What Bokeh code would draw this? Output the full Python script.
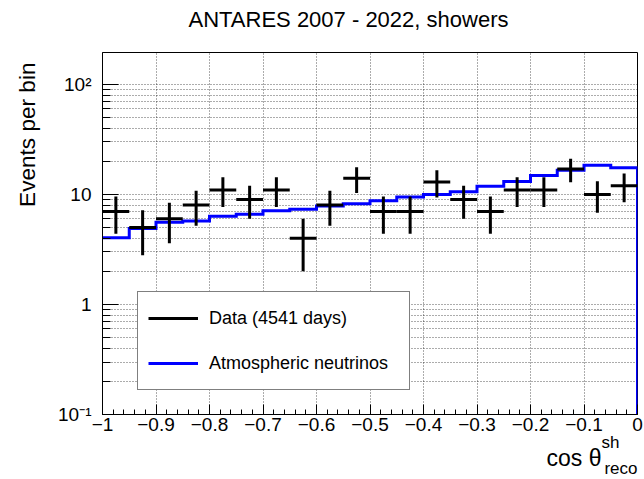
import numpy as np
from bokeh.plotting import figure
from bokeh.models import (Range1d, FixedTicker, Title, Legend, LegendItem, ColumnDataSource)
from bokeh.embed import file_html
from bokeh.resources import INLINE

# ---------------- data ----------------
bin_edges = [-1.0, -0.95, -0.9, -0.85, -0.8, -0.75, -0.7, -0.65, -0.6, -0.55, -0.5,
             -0.45, -0.4, -0.35, -0.3, -0.25, -0.2, -0.15, -0.1, -0.05, 0.0]
data_counts = [7, 5, 6, 8, 11, 9, 11, 4, 8, 14, 7, 7, 13, 9, 7, 11, 11, 17, 10, 12]
data_err = [2.6, 2.2, 2.4, 2.8, 3.3, 3.0, 3.3, 2.0, 2.8, 3.7,
            2.6, 2.6, 3.6, 3.0, 2.6, 3.3, 3.3, 4.1, 3.2, 3.5]
atm_nu = [4.05, 4.9, 5.6, 5.75, 6.35, 6.6, 7.1, 7.35, 7.85, 8.25,
          8.75, 9.5, 10.0, 10.6, 11.9, 13.1, 14.9, 16.6, 18.4, 17.5]

x_tick_values = [-1.0, -0.9, -0.8, -0.7, -0.6, -0.5, -0.4, -0.3, -0.2, -0.1, 0.0]
x_tick_labels = ["\u22121", "\u22120.9", "\u22120.8", "\u22120.7", "\u22120.6", "\u22120.5",
                 "\u22120.4", "\u22120.3", "\u22120.2", "\u22120.1", "0"]
x_minor_values = [round(-1.0 + 0.02 * i, 2) for i in range(51)]
y_tick_values = [0.1, 1, 10, 100]
y_tick_labels = ["10\u207b\u00b9", "1", "10", "10\u00b2"]
y_minor_values = [m * d for d in (0.1, 1, 10, 100) for m in range(2, 10)]

title_text = "ANTARES 2007 - 2022, showers"
y_title = "Events per bin"
x_title_main = "cos \u03b8"
x_title_sup = "sh"
x_title_sub = "reco"
legend_data = "Data (4541 days)"
legend_mc = "Atmospheric neutrinos"

FONT = "Liberation Sans"
Y_MIN, Y_MAX = 0.1, 195

# ---------------- sources ----------------
lo = np.array(bin_edges[:-1])
hi = np.array(bin_edges[1:])
ctr = (lo + hi) / 2
cnt = np.array(data_counts, dtype=float)
err = np.array(data_err)

hsrc = ColumnDataSource(dict(x0=lo, x1=hi, y0=cnt, y1=cnt))
vsrc = ColumnDataSource(dict(x0=ctr, x1=ctr, y0=cnt - err, y1=cnt + err))

step_x, step_y = [], []
for a, b, v in zip(lo, hi, atm_nu):
    step_x += [a, b]
    step_y += [v, v]
step_x.append(bin_edges[-1])
step_y.append(Y_MIN)
msrc = ColumnDataSource(dict(x=step_x, y=step_y))

# ---------------- figure ----------------
p = figure(width=644, height=479, y_axis_type="log",
           x_range=Range1d(-1.0, 0.0), y_range=Range1d(Y_MIN, Y_MAX),
           output_backend="svg", toolbar_location=None, title=None,
           min_border_left=102, min_border_right=7,
           min_border_top=52, min_border_bottom=65)
p.background_fill_color = "white"
p.border_fill_color = "white"
p.outline_line_color = "black"
p.outline_line_width = 1

# grids
p.xgrid.ticker = FixedTicker(ticks=x_tick_values[1:-1])
p.ygrid.ticker = FixedTicker(ticks=y_tick_values[1:] + y_minor_values)
for g in (p.xgrid, p.ygrid):
    g.grid_line_color = "black"
    g.grid_line_alpha = 0.65
    g.grid_line_dash = "1 2"
    g.grid_line_width = 1

# axes
xa = p.xaxis[0]
xa.ticker = FixedTicker(ticks=x_tick_values, minor_ticks=x_minor_values)
xa.major_label_overrides = dict(zip(x_tick_values, x_tick_labels))
xa.major_tick_in = 10
xa.major_tick_out = 0
xa.minor_tick_in = 5
xa.minor_tick_out = 0
xa.major_label_standoff = 3

ya = p.yaxis[0]
ya.ticker = FixedTicker(ticks=y_tick_values, minor_ticks=y_minor_values)
ya.major_label_overrides = dict(zip(y_tick_values, y_tick_labels))
ya.major_tick_in = 16
ya.major_tick_out = 0
ya.minor_tick_in = 8
ya.minor_tick_out = 0
ya.major_label_standoff = 11

for ax in (xa, ya):
    ax.axis_line_color = "black"
    ax.axis_line_width = 1
    ax.major_tick_line_color = "black"
    ax.minor_tick_line_color = "black"
    ax.major_label_text_font = FONT
    ax.major_label_text_font_size = "19px"
    ax.major_label_text_color = "black"

# ---------------- glyphs ----------------
mc = p.line("x", "y", source=msrc, line_color="#0000ff", line_width=3, line_join="miter")
dh = p.segment("x0", "y0", "x1", "y1", source=hsrc, line_color="black", line_width=3)
p.segment("x0", "y0", "x1", "y1", source=vsrc, line_color="black", line_width=3)

legend = Legend(items=[LegendItem(label=legend_data, renderers=[dh]),
                       LegendItem(label=legend_mc, renderers=[mc])],
                location=(35, 24), orientation="vertical",
                glyph_width=50, glyph_height=32, label_height=32, label_width=190,
                label_standoff=11, padding=10, spacing=13, margin=0,
                border_line_color="black", border_line_width=1,
                background_fill_color="white", background_fill_alpha=1.0,
                label_text_font=FONT, label_text_font_size="18px",
                label_text_color="black")
p.add_layout(legend)

# ---------------- titles (side panels, not clipped) ----------------
def ttl(text, size, align, offset, standoff):
    return Title(text=text, text_font=FONT, text_font_size=size, text_color="black",
                 text_font_style="normal", align=align, offset=offset, standoff=standoff)

# above: spacer next to the frame, then the title
p.add_layout(ttl(" ", "10px", "left", 0, 7.5), "above")
p.add_layout(ttl(title_text, "22px", "left", 86, 0), "above")
# left: spacer next to the axis, then the axis title
p.add_layout(ttl(" ", "10px", "left", 0, -2.7), "left")
p.add_layout(ttl(y_title, "22.6px", "right", 10, 11), "left")
# below: cos theta with super/subscript
p.add_layout(ttl(x_title_sup, "17px", "right", 18, -3.6), "below")
p.add_layout(ttl(x_title_main, "23px", "right", 36, -15.2), "below")
p.add_layout(ttl(x_title_sub, "17px", "right", 0, -14.0), "below")

open("out.html", "w").write(file_html(p, INLINE))
